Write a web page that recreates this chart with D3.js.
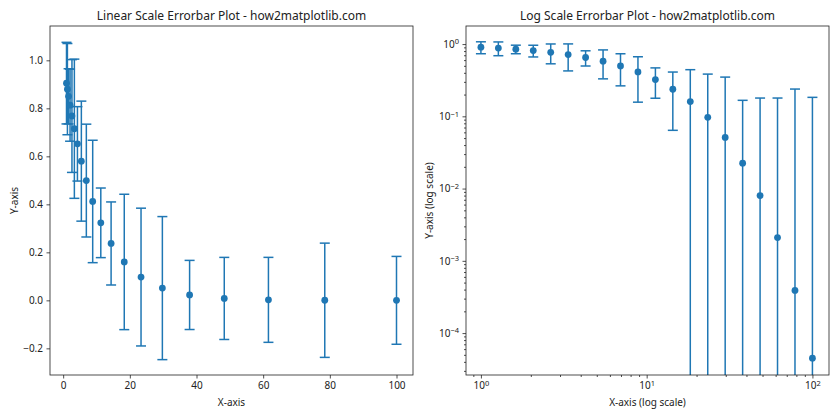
<!DOCTYPE html>
<html>
<head>
<meta charset="utf-8">
<script src="https://cdn.jsdelivr.net/npm/d3@7"></script>
<style>
  body { margin: 0; background: #fff; }
  text { font-family: "Noto Sans", "DejaVu Sans", sans-serif; fill: #222; }
</style>
</head>
<body>
<svg id="chart" width="840" height="420"></svg>
<script>
// ─── data ──────────────────────────────────────────────────────────────────
const xVals = [1, 1.274, 1.624, 2.069, 2.637, 3.360, 4.281, 5.456, 6.952, 8.859,
               11.29, 14.38, 18.33, 23.36, 29.76, 37.93, 48.33, 61.58, 78.48, 100];
const yVals = [0.905, 0.880, 0.850, 0.813, 0.768, 0.715, 0.652, 0.580, 0.499, 0.412,
               0.323, 0.237, 0.160, 0.097, 0.051, 0.0225, 0.0080, 0.0021, 0.00039, 0.000045];
const yErr  = [0.170, 0.190, 0.115, 0.150, 0.235, 0.290, 0.155, 0.250, 0.235, 0.255,
               0.145, 0.173, 0.282, 0.287, 0.298, 0.144, 0.171, 0.177, 0.238, 0.183];

const linYTicks = [-0.2, 0, 0.2, 0.4, 0.6, 0.8, 1.0];
const linXTicks = [0, 20, 40, 60, 80, 100];
const logXTicks = [0, 1, 2];          // exponents
const logYTicks = [-4, -3, -2, -1, 0]; // exponents

const data = xVals.map((x, i) => ({ x, y: yVals[i], e: yErr[i] }));

const blue = "#1f77b4";
const svg = d3.select("#chart");
const plotTop = 26, plotBottom = 375;
const panels = [
  { left: 50,  right: 413, log: false,
    title: "Linear Scale Errorbar Plot - how2matplotlib.com",
    xlab: "X-axis", ylab: "Y-axis", ylabX: 14 },
  { left: 466, right: 829, log: true,
    title: "Log Scale Errorbar Plot - how2matplotlib.com",
    xlab: "X-axis (log scale)", ylab: "Y-axis (log scale)", ylabX: 429 }
];

const minus = s => String(s).replace("-", "\u2212");

function supLabel(sel, exp) {
  sel.text(null);
  sel.append("tspan").text("10");
  sel.append("tspan").attr("dy", "-0.45em").attr("font-size", "7.5px").text(minus(exp));
}

panels.forEach((p, pi) => {
  const g = svg.append("g");
  let x, y;
  if (!p.log) {
    x = d3.scaleLinear().domain([-3.95, 104.95]).range([p.left, p.right]);
    y = d3.scaleLinear().domain([-0.311, 1.143]).range([plotBottom, plotTop]);
  } else {
    x = d3.scaleLog().domain([Math.pow(10, -0.09), Math.pow(10, 2.1)]).range([p.left, p.right]);
    y = d3.scaleLog().domain([Math.pow(10, -4.58), Math.pow(10, 0.25)]).range([plotBottom, plotTop]);
  }

  // clip
  const clipId = "clip" + pi;
  svg.append("defs").append("clipPath").attr("id", clipId)
    .append("rect").attr("x", p.left).attr("y", plotTop)
    .attr("width", p.right - p.left).attr("height", plotBottom - plotTop);

  const plot = g.append("g").attr("clip-path", `url(#${clipId})`);
  const yLow = d => {
    const v = d.y - d.e;
    return (p.log && v <= 0) ? plotBottom + 5 : y(v);
  };

  // error bars
  plot.selectAll(".eb").data(data).join("line")
    .attr("x1", d => x(d.x)).attr("x2", d => x(d.x))
    .attr("y1", d => y(d.y + d.e)).attr("y2", yLow)
    .attr("stroke", blue).attr("stroke-width", 1.5);
  // caps
  plot.selectAll(".capT").data(data).join("line")
    .attr("x1", d => x(d.x) - 5).attr("x2", d => x(d.x) + 5)
    .attr("y1", d => y(d.y + d.e)).attr("y2", d => y(d.y + d.e))
    .attr("stroke", blue).attr("stroke-width", 1.5);
  plot.selectAll(".capB").data(data.filter(d => !p.log || d.y - d.e > 0)).join("line")
    .attr("x1", d => x(d.x) - 5).attr("x2", d => x(d.x) + 5)
    .attr("y1", yLow).attr("y2", yLow)
    .attr("stroke", blue).attr("stroke-width", 1.5);
  // markers
  plot.selectAll("circle").data(data).join("circle")
    .attr("cx", d => x(d.x)).attr("cy", d => y(d.y))
    .attr("r", 3.4).attr("fill", blue);

  // axes
  const xAxisG = g.append("g").attr("transform", `translate(0,${plotBottom})`);
  const yAxisG = g.append("g").attr("transform", `translate(${p.left},0)`);
  if (!p.log) {
    xAxisG.call(d3.axisBottom(x).tickValues(linXTicks).tickSize(3.5).tickPadding(3.5)
      .tickFormat(d3.format("d")));
    yAxisG.call(d3.axisLeft(y).tickValues(linYTicks).tickSize(3.5).tickPadding(3.5)
      .tickFormat(d => minus(d3.format(".1f")(d))));
  } else {
    const minorX = [];
    for (let e = -1; e <= 2; e++) for (let m = 2; m <= 9; m++) minorX.push(m * Math.pow(10, e));
    const minorY = [];
    for (let e = -5; e <= 0; e++) for (let m = 2; m <= 9; m++) minorY.push(m * Math.pow(10, e));
    const [x0, x1] = x.domain(), [y0, y1] = y.domain();
    xAxisG.append("g").call(d3.axisBottom(x).tickValues(minorX.filter(v => v >= x0 && v <= x1))
      .tickSize(2).tickFormat(""));
    yAxisG.append("g").call(d3.axisLeft(y).tickValues(minorY.filter(v => v >= y0 && v <= y1))
      .tickSize(2).tickFormat(""));
    xAxisG.append("g").call(d3.axisBottom(x).tickValues(logXTicks.map(e => Math.pow(10, e)))
      .tickSize(3.5).tickPadding(3.5).tickFormat(""))
      .selectAll(".tick").each(function(d) {
        const t = d3.select(this).select("text");
        supLabel(t, Math.round(Math.log10(d)));
      });
    yAxisG.append("g").call(d3.axisLeft(y).tickValues(logYTicks.map(e => Math.pow(10, e)))
      .tickSize(3.5).tickPadding(3.5).tickFormat(""))
      .selectAll(".tick").each(function(d) {
        const t = d3.select(this).select("text");
        supLabel(t, Math.round(Math.log10(d)));
      });
  }
  g.selectAll(".tick text").attr("font-size", "10px").attr("fill", "#222");
  g.selectAll(".tick line").attr("stroke", "#222").attr("stroke-width", 0.8);
  g.selectAll(".domain").remove();

  // frame
  g.append("rect").attr("x", p.left).attr("y", plotTop)
    .attr("width", p.right - p.left).attr("height", plotBottom - plotTop)
    .attr("fill", "none").attr("stroke", "#222").attr("stroke-width", 0.8);

  // title & labels
  g.append("text").attr("x", (p.left + p.right) / 2).attr("y", 20)
    .attr("text-anchor", "middle").attr("font-size", "12px").text(p.title);
  g.append("text").attr("x", (p.left + p.right) / 2).attr("y", 406)
    .attr("text-anchor", "middle").attr("font-size", "10px").text(p.xlab);
  g.append("text").attr("transform", `translate(${p.ylabX},${(plotTop + plotBottom) / 2}) rotate(-90)`)
    .attr("text-anchor", "middle").attr("dy", "0.35em").attr("font-size", "10px").text(p.ylab);
});
</script>
</body>
</html>
